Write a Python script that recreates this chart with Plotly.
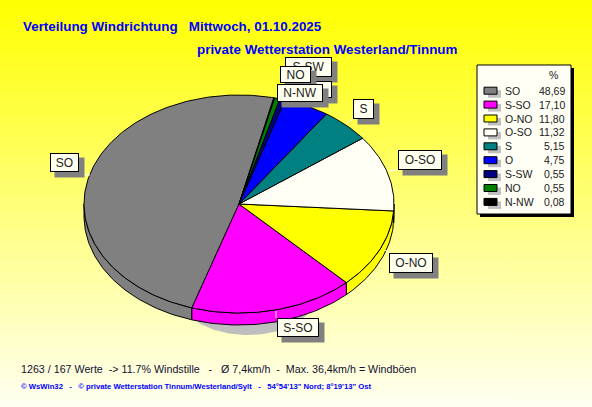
import numpy as np
import plotly.graph_objects as go

# ---- data ----
categories = ["SO", "S-SO", "O-NO", "O-SO", "S", "O", "S-SW", "NO", "N-NW"]
values = [48.69, 17.10, 11.80, 11.32, 5.15, 4.75, 0.55, 0.55, 0.08]
value_labels = ["48,69", "17,10", "11,80", "11,32", "5,15", "4,75", "0,55", "0,55", "0,08"]
colors = ["#808080", "#FF00FF", "#FFFF00", "#FFFFF5", "#008080", "#0000FF", "#000080", "#008000", "#000000"]

title_1 = "Verteilung Windrichtung\u00a0\u00a0\u00a0Mittwoch, 01.10.2025"
title_2 = "private Wetterstation Westerland/Tinnum"
foot_1 = ("1263 / 167 Werte\u00a0\u00a0-> 11.7% Windstille\u00a0\u00a0\u00a0-\u00a0\u00a0\u00a0Ø 7,4km/h\u00a0\u00a0-\u00a0\u00a0"
          "Max. 36,4km/h = Windböen")
foot_2 = ("© WsWin32\u00a0\u00a0\u00a0-\u00a0\u00a0\u00a0© private Wetterstation Tinnum/Westerland/Sylt\u00a0\u00a0\u00a0-\u00a0\u00a0\u00a0"
          "54°54'13\" Nord; 8°19'13\" Ost")

# slice-label boxes, drawn in this order: (name, x0, y0, x1, y1)
label_boxes = [
    ("SO", 50, 153, 79, 172), ("S-SO", 277, 318, 319, 337), ("O-NO", 389, 253, 433, 273),
    ("O-SO", 398, 150, 442, 170), ("S", 353, 99, 374, 119), ("S-SW", 285, 57, 332, 77),
    ("O", 300, 81, 332, 98), ("NO", 280, 66, 311, 83), ("N-NW", 277, 84, 323, 102),
]
leaders = [(79, 174, 90, 175), (398, 170, 389, 171), (353, 119, 347, 123),
           (276, 311, 276, 318), (389, 253, 385, 250)]

# ---- geometry of the tilted pie ----
CX, CY, A, B, DEPTH, START = 239, 204, 155, 109, 12, 77.0


def ell(t):
    r = np.radians(t)
    return CX + A * np.cos(r), CY - B * np.sin(r)


fig = go.Figure()

# page background
fig.add_trace(go.Scatter(
    x=[0, 592, 592, 0, 0], y=[0, 0, 407, 407, 0], mode="lines", line=dict(width=0),
    fill="toself", hoverinfo="skip", showlegend=False,
    fillgradient=dict(type="vertical", start=0, stop=407,
                      colorscale=[[0, "#FFFF00"], [1, "#FFFFF2"]]),
))

# soft shadow under the pie
ts = np.linspace(0, 360, 121)
fig.add_trace(go.Scatter(
    x=248 + 65 * np.cos(np.radians(ts)), y=300 + 35 * np.sin(np.radians(ts)),
    mode="lines", line=dict(width=0), fill="toself", fillcolor="#BEBEBE",
    hoverinfo="skip", showlegend=False,
))

angles = START + np.concatenate([[0], np.cumsum(values)]) / sum(values) * 360

# side walls (lower half of the ellipse)
for i, c in enumerate(colors):
    lo, hi = max(angles[i], 180), min(angles[i + 1], 360)
    if hi <= lo:
        continue
    t = np.linspace(lo, hi, max(int(hi - lo), 2) + 1)
    ex, ey = ell(t)
    fig.add_trace(go.Scatter(
        x=np.r_[ex, ex[::-1], ex[0]], y=np.r_[ey, ey[::-1] + DEPTH, ey[0]],
        mode="lines", line=dict(color="black", width=1), fill="toself", fillcolor=c,
        hoverinfo="skip", showlegend=False,
    ))

# top faces
for i, (name, c) in enumerate(zip(categories, colors)):
    t = np.linspace(angles[i], angles[i + 1], max(int(angles[i + 1] - angles[i]), 2) + 1)
    ex, ey = ell(t)
    fig.add_trace(go.Scatter(
        x=np.r_[CX, ex, CX], y=np.r_[CY, ey, CY],
        mode="lines", line=dict(color="black", width=1), fill="toself", fillcolor=c,
        name=name, hoverinfo="name", showlegend=False,
    ))

shapes = []
annotations = []


def text(x, y, s, size, color, bold=False, anchor="left", family="Liberation Sans"):
    annotations.append(dict(
        x=x, y=y, xref="x", yref="y", text=f"<b>{s}</b>" if bold else s, showarrow=False,
        xanchor=anchor, yanchor="middle", align=anchor,
        font=dict(family=family, size=size, color=color), borderpad=0,
    ))


for x0, y0, x1, y1 in leaders:
    shapes.append(dict(type="line", x0=x0, y0=y0, x1=x1, y1=y1, xref="x", yref="y",
                       line=dict(color="white", width=1)))

# slice labels (annotations stack in order, so later boxes hide earlier ones)
for name, x0, y0, x1, y1 in label_boxes:
    annotations.append(dict(
        x=x0 + 4, y=y0 + 4, xref="x", yref="y", text=" ", showarrow=False,
        xanchor="left", yanchor="top", width=x1 - x0, height=y1 - y0,
        bgcolor="#808080", borderpad=0, font=dict(size=12),
    ))
    annotations.append(dict(
        x=x0, y=y0, xref="x", yref="y", text=name, showarrow=False,
        xanchor="left", yanchor="top", width=x1 - x0 - 2, height=y1 - y0 - 2,
        bgcolor="#FFFFF0", bordercolor="black", borderwidth=1, borderpad=0, align="center",
        font=dict(family="Liberation Sans", size=12, color="#202020"),
    ))

# legend panel
shapes.append(dict(type="rect", x0=480, y0=68, x1=574, y1=217, xref="x", yref="y",
                   fillcolor="black", line=dict(width=0)))
shapes.append(dict(type="rect", x0=477, y0=65, x1=571, y1=214, xref="x", yref="y",
                   fillcolor="#FFFFF5", line=dict(color="black", width=1)))
text(553, 75, "%", 10.5, "#202020", anchor="center")
for i, (name, val, c) in enumerate(zip(categories, value_labels, colors)):
    yc = 90.7 + 13.9 * i
    shapes.append(dict(type="rect", x0=488, y0=yc - 0.5, x1=501, y1=yc + 7, xref="x", yref="y",
                       fillcolor="#C0C0C0", line=dict(width=0)))
    shapes.append(dict(type="rect", x0=484, y0=yc - 3.5, x1=497, y1=yc + 3.5, xref="x", yref="y",
                       fillcolor=c, line=dict(color="black", width=1)))
    text(504, yc, name, 10.5, "#202020")
    text(566, yc, val, 10.5, "#202020", anchor="right")

# titles and footer
text(22, 26, title_1, 13.4, "#0000FF", bold=True)
text(196, 49, title_2, 13.4, "#0000FF", bold=True)
text(20, 369, foot_1, 10.7, "#101030")
text(20, 386, foot_2, 7.7, "#0000FF", bold=True)

fig.update_layout(
    width=592, height=407, margin=dict(l=0, r=0, t=0, b=0),
    paper_bgcolor="#FFFFA0", plot_bgcolor="rgba(0,0,0,0)", showlegend=False,
    xaxis=dict(range=[0, 592], visible=False, fixedrange=True),
    yaxis=dict(range=[407, 0], visible=False, fixedrange=True),
    shapes=shapes, annotations=annotations,
)
fig.write_html("out.html", config=dict(displayModeBar=False),
               post_script="document.body.style.margin='0';document.body.style.overflow='hidden';")
